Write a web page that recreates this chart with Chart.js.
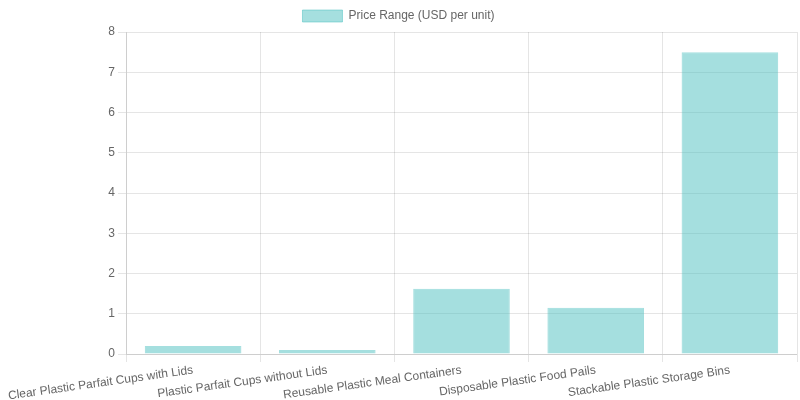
<!DOCTYPE html>
<html>
<head>
<meta charset="utf-8">
<script src="https://cdn.jsdelivr.net/npm/chart.js@4/dist/chart.umd.min.js"></script>
<style>
html,body{margin:0;padding:0;background:#fff;}
#wrap{width:800px;height:400px;}
</style>
</head>
<body>
<div id="wrap"><canvas id="c"></canvas></div>
<script>
const categories = [
  "Clear Plastic Parfait Cups with Lids",
  "Plastic Parfait Cups without Lids",
  "Reusable Plastic Meal Containers",
  "Disposable Plastic Food Pails",
  "Stackable Plastic Storage Bins"
];
const priceValues = [0.2, 0.1, 1.62, 1.15, 7.5];
const seriesLabel = "Price Range (USD per unit)";

new Chart(document.getElementById('c'), {
  type: 'bar',
  data: {
    labels: categories,
    datasets: [{
      label: seriesLabel,
      data: priceValues,
      backgroundColor: 'rgba(75, 192, 192, 0.5)',
      borderColor: 'rgba(75, 192, 192, 0.5)',
      borderWidth: 1
    }]
  },
  options: {
    responsive: true,
    maintainAspectRatio: false,
    animation: false,
    layout: { padding: { right: 3 } },
    scales: {
      x: {
        ticks: { minRotation: 8, maxRotation: 8, padding: 1, autoSkip: false },
        afterFit: (s) => { s.height = 46; s.paddingLeft = 0; }
      },
      y: {
        beginAtZero: true, max: 8, ticks: { stepSize: 1 },
        afterFit: (s) => { s.width = 126; }
      }
    }
  }
});
</script>
</body>
</html>
